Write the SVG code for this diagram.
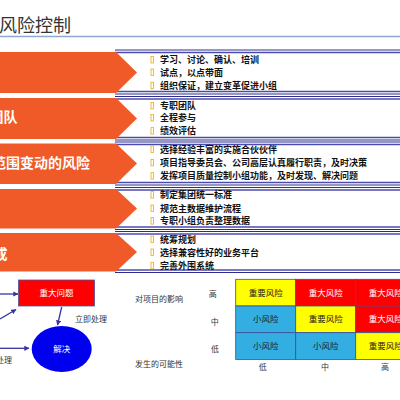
<svg xmlns="http://www.w3.org/2000/svg" width="400" height="400" viewBox="0 0 400 400">
<defs>
<style>
.cjk{font-family:"Noto Sans CJK SC","Noto Sans",sans-serif}
.title{font-size:18px;fill:#333}
.big{font-size:14px;font-weight:bold;fill:#fff}
.item{font-size:9px;fill:#111;font-weight:bold}
.bul{fill:none;stroke:#F0A800;stroke-width:0.8}
.thin{stroke:#2E2E8A;stroke-width:1}
.thick{stroke:#4B4BB0;stroke-width:1.6}
.chev{fill:#EF5A28}
.lbl{font-size:8px;fill:#333}
.cell{stroke:#3A4E9A;stroke-width:0.8}
.ct{font-size:8.5px;text-anchor:middle}
.conn{stroke:#3535A0;stroke-width:1.3;fill:none}
</style>
<marker id="ah" viewBox="0 0 10 10" refX="9" refY="5" markerWidth="4" markerHeight="4" orient="auto">
<path d="M0,0 L10,5 L0,10 z" fill="#3535A0"/>
</marker>
</defs>
<rect width="400" height="400" fill="#fff"/>
<g id="title">
<text class="cjk title" x="-1" y="32">风险控制</text>
<line x1="0" y1="36.5" x2="400" y2="36.5" stroke="#8FA8D0" stroke-width="1.5"/>
</g>
<g id="rules">
<line class="thin" x1="115" y1="50" x2="400" y2="50"/><line class="thick" x1="115" y1="52.5" x2="400" y2="52.5"/>
<line class="thick" x1="115" y1="91.5" x2="400" y2="91.5"/><line class="thin" x1="115" y1="94" x2="400" y2="94"/>
<line class="thin" x1="115" y1="96.5" x2="400" y2="96.5"/><line class="thick" x1="115" y1="99" x2="400" y2="99"/>
<line class="thick" x1="115" y1="137.5" x2="400" y2="137.5"/><line class="thin" x1="115" y1="140" x2="400" y2="140"/>
<line class="thin" x1="115" y1="142" x2="400" y2="142"/><line class="thick" x1="115" y1="144.5" x2="400" y2="144.5"/>
<line class="thick" x1="115" y1="182.5" x2="400" y2="182.5"/><line class="thin" x1="115" y1="185" x2="400" y2="185"/>
<line class="thin" x1="115" y1="187.5" x2="400" y2="187.5"/><line class="thick" x1="115" y1="190" x2="400" y2="190"/>
<line class="thick" x1="115" y1="227" x2="400" y2="227"/><line class="thin" x1="115" y1="229.5" x2="400" y2="229.5"/>
<line class="thin" x1="115" y1="231.5" x2="400" y2="231.5"/><line class="thick" x1="115" y1="234" x2="400" y2="234"/>
<line class="thick" x1="115" y1="270" x2="400" y2="270"/><line class="thin" x1="115" y1="272.5" x2="400" y2="272.5"/>
</g>
<g id="row1">
<polygon class="chev" points="0,52 116,52 137,72.5 116,93 0,93"/>
<rect class="bul" x="151" y="56.5" width="2.5" height="6.5"/><text class="cjk item" x="160" y="63.3">学习、讨论、确认、培训</text>
<rect class="bul" x="151" y="69" width="2.5" height="6.5"/><text class="cjk item" x="160" y="75.8">试点，以点带面</text>
<rect class="bul" x="151" y="82.3" width="2.5" height="6.5"/><text class="cjk item" x="160" y="89.1">组织保证，建立变革促进小组</text>
</g>
<g id="row2">
<polygon class="chev" points="0,98 116,98 137,118.5 116,139 0,139"/>
<text class="cjk big" x="17.5" y="121.8" text-anchor="end">团队</text>
<rect class="bul" x="151" y="102.4" width="2.5" height="6.5"/><text class="cjk item" x="160" y="109.2">专职团队</text>
<rect class="bul" x="151" y="114.4" width="2.5" height="6.5"/><text class="cjk item" x="160" y="121.2">全程参与</text>
<rect class="bul" x="151" y="127.6" width="2.5" height="6.5"/><text class="cjk item" x="160" y="134.4">绩效评估</text>
</g>
<g id="row3">
<polygon class="chev" points="0,143.5 116,143.5 137,163.5 116,184 0,184"/>
<text class="cjk big" x="90" y="168.2" text-anchor="end">范围变动的风险</text>
<rect class="bul" x="151" y="146" width="2.5" height="6.5"/><text class="cjk item" x="160" y="152.8">选择经验丰富的实施合伙伙伴</text>
<rect class="bul" x="151" y="159.3" width="2.5" height="6.5"/><text class="cjk item" x="160" y="166.1">项目指导委员会、公司高层认真履行职责，及时决策</text>
<rect class="bul" x="151" y="172.6" width="2.5" height="6.5"/><text class="cjk item" x="160" y="179.4">发挥项目质量控制小组功能，及时发现、解决问题</text>
</g>
<g id="row4">
<polygon class="chev" points="0,189 116,189 137,208.5 116,228.5 0,228.5"/>
<rect class="bul" x="151" y="191.6" width="2.5" height="6.5"/><text class="cjk item" x="160" y="198.4">制定集团统一标准</text>
<rect class="bul" x="151" y="205" width="2.5" height="6.5"/><text class="cjk item" x="160" y="211.8">规范主数据维护流程</text>
<rect class="bul" x="151" y="217.6" width="2.5" height="6.5"/><text class="cjk item" x="160" y="224.4">专职小组负责整理数据</text>
</g>
<g id="row5">
<polygon class="chev" points="0,233 116,233 137,252 116,271.5 0,271.5"/>
<text class="cjk big" x="7.5" y="258.5" text-anchor="end">系统集成</text>
<rect class="bul" x="151" y="236" width="2.5" height="6.5"/><text class="cjk item" x="160" y="242.8">统筹规划</text>
<rect class="bul" x="151" y="249" width="2.5" height="6.5"/><text class="cjk item" x="160" y="255.8">选择兼容性好的业务平台</text>
<rect class="bul" x="151" y="262.3" width="2.5" height="6.5"/><text class="cjk item" x="160" y="269.1">完善外围系统</text>
</g>
<g id="connectors">
<line class="conn" x1="0" y1="294" x2="18" y2="294" marker-end="url(#ah)"/>
<line class="conn" x1="0" y1="319" x2="16" y2="309.5" marker-end="url(#ah)"/>
<line class="conn" x1="61.7" y1="307" x2="57.5" y2="325" marker-end="url(#ah)"/>
<line class="conn" x1="0" y1="348.3" x2="29" y2="348.3" marker-end="url(#ah)"/>
</g>
<g id="problem">
<rect x="18.5" y="280" width="76" height="26" fill="#FF0000" stroke="#5050A0" stroke-width="0.8"/>
<text class="cjk ct" x="56.5" y="296" fill="#fff" font-size="8px">重大问题</text>
</g>
<text class="cjk lbl" x="75" y="321.5">立即处理</text>
<g id="solve">
<ellipse cx="61.7" cy="349" rx="30" ry="23" fill="#0000EE"/>
<text class="cjk ct" x="61.7" y="352" fill="#fff" font-size="8px">解决</text>
</g>
<text class="cjk lbl" x="12" y="363" text-anchor="end">处理</text>
<g id="matrix">
<text class="cjk lbl" x="135" y="302">对项目的影响</text>
<text class="cjk lbl" x="135" y="367">发生的可能性</text>
<text class="cjk lbl" x="212.7" y="297" text-anchor="middle">高</text>
<text class="cjk lbl" x="214.7" y="325" text-anchor="middle">中</text>
<text class="cjk lbl" x="215" y="351.5" text-anchor="middle">低</text>
<text class="cjk lbl" x="262.7" y="370" text-anchor="middle">低</text>
<text class="cjk lbl" x="325" y="370" text-anchor="middle">中</text>
<text class="cjk lbl" x="385" y="370" text-anchor="middle">高</text>
<g id="c11"><rect class="cell" x="235.7" y="279.3" width="60" height="26.7" fill="#FFFF00"/><text class="cjk ct" x="265.7" y="295.7" fill="#222">重要风险</text></g>
<g id="c12"><rect class="cell" x="295.7" y="279.3" width="60" height="26.7" fill="#FF0000"/><text class="cjk ct" x="325.7" y="295.7" fill="#fff">重大风险</text></g>
<g id="c13"><rect class="cell" x="355.7" y="279.3" width="60" height="26.7" fill="#FF0000"/><text class="cjk ct" x="385.7" y="295.7" fill="#fff">重大风险</text></g>
<g id="c21"><rect class="cell" x="235.7" y="306" width="60" height="26.7" fill="#33AEE2"/><text class="cjk ct" x="265.7" y="322.4" fill="#222">小风险</text></g>
<g id="c22"><rect class="cell" x="295.7" y="306" width="60" height="26.7" fill="#FFFF00"/><text class="cjk ct" x="325.7" y="322.4" fill="#222">重要风险</text></g>
<g id="c23"><rect class="cell" x="355.7" y="306" width="60" height="26.7" fill="#FF0000"/><text class="cjk ct" x="385.7" y="322.4" fill="#fff">重大风险</text></g>
<g id="c31"><rect class="cell" x="235.7" y="332.7" width="60" height="26.7" fill="#33AEE2"/><text class="cjk ct" x="265.7" y="349.1" fill="#222">小风险</text></g>
<g id="c32"><rect class="cell" x="295.7" y="332.7" width="60" height="26.7" fill="#33AEE2"/><text class="cjk ct" x="325.7" y="349.1" fill="#222">小风险</text></g>
<g id="c33"><rect class="cell" x="355.7" y="332.7" width="60" height="26.7" fill="#FFFF00"/><text class="cjk ct" x="385.7" y="349.1" fill="#222">重要风险</text></g>
</g>
</svg>
